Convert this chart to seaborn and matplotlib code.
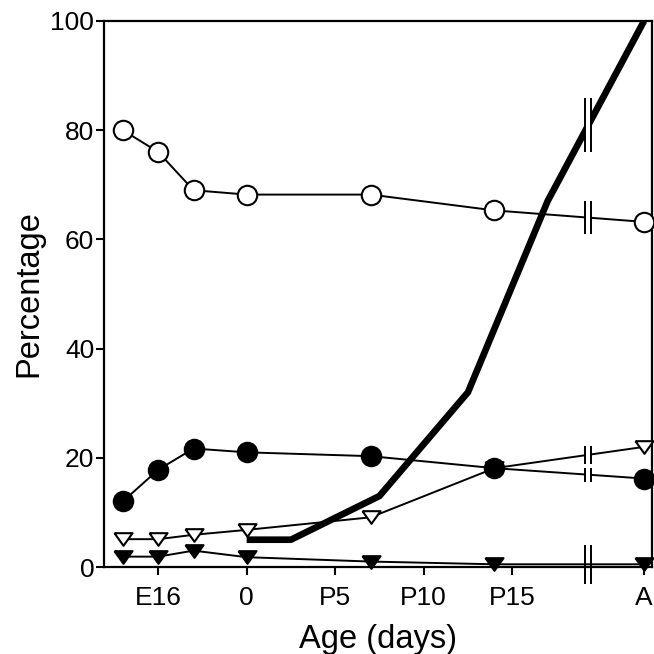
import numpy as np
import pandas as pd
import matplotlib
matplotlib.use('Agg')
import matplotlib.pyplot as plt
import seaborn as sns

# Dados (idade em dias; A = adulto)
dias = [-7, -5, -3, 0, 7, 14, 22.45]
circulo_aberto = [80, 76, 69, 68.2, 68.2, 65.3, 63.2]
circulo_cheio = [12, 17.8, 21.7, 21, 20.3, 18.1, 16.2]
triangulo_aberto = [5.1, 5.1, 5.9, 6.8, 9.1, 18.1, 22]
triangulo_cheio = [1.9, 1.9, 3.0, 1.8, 1.0, 0.5, 0.5]

dias_linha = [0, 2.5, 7.5, 12.5, 17, 22.45]
linha_grossa = [5, 5, 13, 32, 67, 100]

ticks_x = [-5, 0, 5, 10, 15, 22.45]
labels_x = ['E16', '0', 'P5', 'P10', 'P15', 'A']

# posição da quebra do eixo
quebra = 19.3

sns.set_style('ticks')
plt.rcParams['font.family'] = ['Liberation Sans', 'DejaVu Sans']

fig = plt.figure(figsize=(6.54, 6.54), dpi=100)
ax = fig.add_axes([0.159, 0.133, 0.838, 0.835])

# triângulo achatado, apontando para baixo (caminho fechado)
tri = [(-1, 0.7), (1, 0.7), (0, -0.7), (-1, 0.7)]
estilo = dict(color='k', linewidth=1.4, markeredgecolor='k', markeredgewidth=1.5, clip_on=False)

sns.lineplot(x=dias, y=circulo_aberto, marker='o', markersize=14, markerfacecolor='white', zorder=3, ax=ax, **estilo)
sns.lineplot(x=dias, y=triangulo_aberto, marker=tri, markersize=13, markerfacecolor='white', zorder=3, ax=ax, **estilo)
sns.lineplot(x=dias, y=circulo_cheio, marker='o', markersize=14, markerfacecolor='k', zorder=4, ax=ax, **estilo)
sns.lineplot(x=dias, y=triangulo_cheio, marker=tri, markersize=13, markerfacecolor='k', zorder=4, ax=ax, **estilo)
sns.lineplot(x=dias_linha, y=linha_grossa, color='k', linewidth=4.8, solid_capstyle='butt', zorder=2, ax=ax)

# Marcas de quebra (||) nas linhas
def marca_quebra(xs, ys, meia_altura):
    y = np.interp(quebra, xs, ys)
    d = 0.17
    ax.fill_betweenx([y - meia_altura, y + meia_altura], quebra - d, quebra + d, color='white', zorder=6, linewidth=0)
    ax.vlines([quebra - d, quebra + d], y - meia_altura, y + meia_altura, color='k', linewidth=1.4, zorder=7)

marca_quebra(dias, circulo_aberto, 3.0)
marca_quebra(dias, triangulo_aberto, 1.6)
marca_quebra(dias, circulo_cheio, 1.3)
marca_quebra(dias_linha, linha_grossa, 5.0)

# quebra no eixo x
ax.vlines([quebra - 0.17, quebra + 0.17], -3.2, 4.0, color='k', linewidth=1.4, zorder=7, clip_on=False)

ax.set_xlim(-8.06, 22.9)
ax.set_ylim(0, 100)
ax.set_yticks([0, 20, 40, 60, 80, 100])
ax.set_xticks(ticks_x, labels_x)
ax.tick_params(direction='out', length=6, width=1.5, labelsize=19, colors='k')
ax.tick_params(axis='y', pad=1)
ax.tick_params(axis='x', pad=7.5)

for lado in ['left', 'right', 'top', 'bottom']:
    ax.spines[lado].set_visible(True)
    ax.spines[lado].set_linewidth(1.6)
    ax.spines[lado].set_color('k')

ax.set_xlabel('Age (days)', fontsize=23.5, labelpad=10.5, color='k')
ax.set_ylabel('Percentage', fontsize=23.5, labelpad=4, color='k')

plt.savefig('out.png', dpi=100)
plt.close()
